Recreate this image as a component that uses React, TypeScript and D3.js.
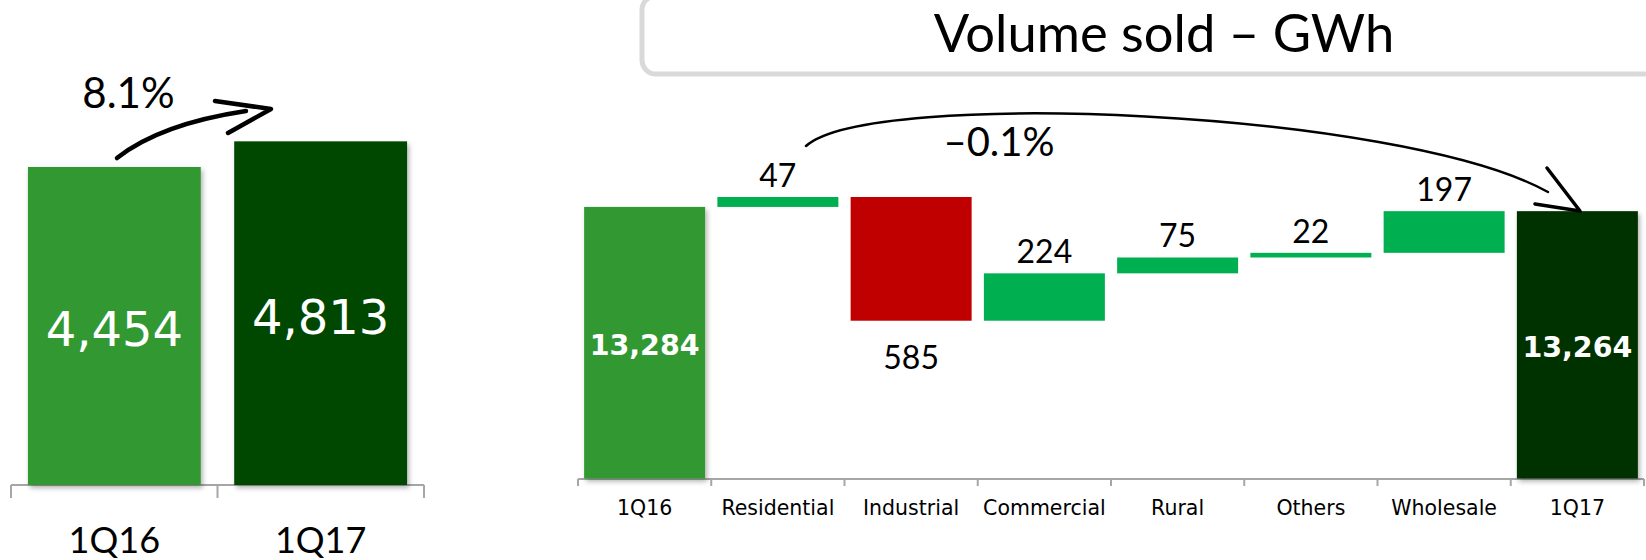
import React from 'react';
import * as d3 from 'd3';

// ---------- data ----------
const leftCategories = ['1Q16', '1Q17'];
const leftValues = [4454, 4813];
const leftGrowthLabel = '8.1%';

const wfTitle = 'Volume sold – GWh';
const wfCategories = ['1Q16', 'Residential', 'Industrial', 'Commercial', 'Rural', 'Others', 'Wholesale', '1Q17'];
const wfValues = [13284, 47, -585, 224, 75, 22, 197, 13264];
const wfKinds = ['total', 'delta', 'delta', 'delta', 'delta', 'delta', 'delta', 'total'];
const wfGrowthLabel = '–0.1%';

// ---------- style ----------
const VERDANA = "'DejaVu Sans', Verdana, sans-serif";
const CALIBRI = "Lato, Carlito, Calibri, sans-serif";
const AXIS = '#a6a6a6';
const LEFT_COLORS = ['#339933', '#004700'];
const WF_FIRST = '#339933';
const WF_LAST = '#003300';
const WF_POS = '#00b050';
const WF_NEG = '#c00000';

const fmt = d3.format(',');

export default function App() {
  // left chart scales
  const lx = d3.scaleBand<string>().domain(leftCategories).range([11, 424]).paddingInner(0.162).paddingOuter(0.082);
  const ly = d3.scaleLinear().domain([0, 5000]).range([485, 485 - 5000 * 0.0714]);

  // waterfall scales (broken axis: starts at 12,000)
  const wx = d3.scaleBand<string>().domain(wfCategories).range([578, 1644]).paddingInner(0.092).paddingOuter(0.046);
  const k = 0.2115;
  const wy = d3.scaleLinear().domain([12000, 13500]).range([478.5, 478.5 - 1500 * k]);

  let running = 0;
  const segs = wfCategories.map((c, i) => {
    const v = wfValues[i];
    if (wfKinds[i] === 'total') {
      running = v;
      return { c, v, lo: wy.domain()[0], hi: v, kind: 'total', i };
    }
    const start = running;
    running += v;
    return { c, v, lo: Math.min(start, running), hi: Math.max(start, running), kind: v >= 0 ? 'pos' : 'neg', i };
  });

  const colorFor = (s: any) =>
    s.kind === 'total' ? (s.i === 0 ? WF_FIRST : WF_LAST) : s.kind === 'pos' ? WF_POS : WF_NEG;

  const leftTicks = [lx.range()[0], ...leftCategories.map((c) => (lx(c) as number) + lx.bandwidth() + lx.step() * lx.paddingInner() / 2)];
  leftTicks[leftTicks.length - 1] = lx.range()[1];

  const bigArrow = d3.path();
  bigArrow.moveTo(806, 146);
  bigArrow.bezierCurveTo(870, 88, 1400, 110, 1548, 192);

  const smallArrow = d3.path();
  smallArrow.moveTo(117, 158);
  smallArrow.quadraticCurveTo(160, 124, 246, 111);

  return (
    <svg
      width={1646}
      height={560}
      style={{ position: 'absolute', left: 0, top: 0, background: '#fff' }}
    >
      <defs>
        <filter id="sh" x="-10%" y="-10%" width="130%" height="130%">
          <feDropShadow dx="2" dy="3" stdDeviation="2.5" floodColor="#000" floodOpacity="0.3" />
        </filter>
      </defs>

      {/* ---------- left chart ---------- */}
      <line x1={leftTicks[0]} x2={leftTicks[leftTicks.length - 1]} y1={485} y2={485} stroke={AXIS} strokeWidth={2} />
      {leftTicks.map((t, i) => (
        <line key={i} x1={t} x2={t} y1={485} y2={498} stroke={AXIS} strokeWidth={2} />
      ))}
      {leftCategories.map((c, i) => {
        const x = lx(c) as number;
        const y = ly(leftValues[i]);
        const cx = x + lx.bandwidth() / 2;
        const cy = (y + ly(0)) / 2;
        return (
          <g key={c}>
            <rect x={x} y={y} width={lx.bandwidth()} height={ly(0) - y} fill={LEFT_COLORS[i]} filter="url(#sh)" />
            <text x={cx} y={cy + 48 * 0.3645 + 3} textAnchor="middle" fontFamily={VERDANA} fontSize={48} fill="#fff">
              {fmt(leftValues[i])}
            </text>
            <text x={cx} y={553} textAnchor="middle" fontFamily={CALIBRI} fontSize={36} fill="#000">
              {c}
            </text>
          </g>
        );
      })}
      <text x={128.5} y={108} textAnchor="middle" fontFamily={CALIBRI} fontSize={42} fill="#000">
        {leftGrowthLabel}
      </text>
      <path d={smallArrow.toString()} fill="none" stroke="#000" strokeWidth={4.5} strokeLinecap="round" />
      <polyline points="215,101 271,109 228,133" fill="none" stroke="#000" strokeWidth={4.5} strokeLinecap="round" strokeLinejoin="round" />

      {/* ---------- waterfall ---------- */}
      <rect x={642} y={-4} width={1030} height={78} rx={14} ry={14} fill="#fff" stroke="#d9d9d9" strokeWidth={5} />
      <text x={1164} y={52} textAnchor="middle" fontFamily={CALIBRI} fontSize={52.5} fill="#000">
        {wfTitle}
      </text>

      <line x1={wx.range()[0]} x2={wx.range()[1]} y1={479} y2={479} stroke={AXIS} strokeWidth={2} />
      {wfCategories.map((c, i) => {
        const t = wx.range()[0] + wx.step() * i;
        return <line key={'t' + i} x1={t} x2={t} y1={479} y2={486} stroke={AXIS} strokeWidth={2} />;
      })}
      <line x1={wx.range()[1]} x2={wx.range()[1]} y1={479} y2={486} stroke={AXIS} strokeWidth={2} />

      {segs.map((s) => {
        const x = wx(s.c) as number;
        const w = wx.bandwidth();
        const yTop = wy(s.hi);
        const yBot = wy(s.lo);
        const cx = x + w / 2;
        return (
          <g key={s.c}>
            <rect
              x={x}
              y={yTop}
              width={w}
              height={yBot - yTop}
              fill={colorFor(s)}
              filter={s.kind === 'total' ? 'url(#sh)' : undefined}
            />
            {s.kind === 'total' ? (
              <text x={cx} y={(yTop + yBot) / 2 + 29 * 0.3645 + 1.5} textAnchor="middle" fontFamily={VERDANA} fontWeight="bold" fontSize={28.5} fill="#fff">
                {fmt(s.v)}
              </text>
            ) : s.kind === 'pos' ? (
              <text x={cx} y={yTop - 10} textAnchor="middle" fontFamily={CALIBRI} fontSize={32} fill="#000">
                {fmt(Math.abs(s.v))}
              </text>
            ) : (
              <text x={cx} y={yBot + 48} textAnchor="middle" fontFamily={CALIBRI} fontSize={32} fill="#000">
                {fmt(Math.abs(s.v))}
              </text>
            )}
            <text x={cx} y={515} textAnchor="middle" fontFamily={VERDANA} fontSize={20.5} fill="#000">
              {s.c}
            </text>
          </g>
        );
      })}

      <text x={999} y={156} textAnchor="middle" fontFamily={CALIBRI} fontSize={40} fill="#000">
        {wfGrowthLabel}
      </text>
      <path d={bigArrow.toString()} fill="none" stroke="#000" strokeWidth={2.5} strokeLinecap="round" />
      <polyline points="1547,168 1580,211 1535,204" fill="none" stroke="#000" strokeWidth={3.5} strokeLinecap="round" strokeLinejoin="round" />
    </svg>
  );
}
